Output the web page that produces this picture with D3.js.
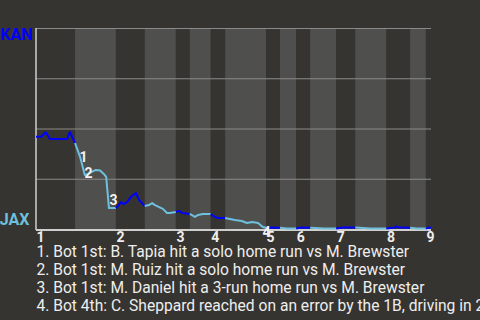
<!DOCTYPE html>
<html>
<head>
<meta charset="utf-8">
<script src="https://cdn.jsdelivr.net/npm/d3@7"></script>
<style>
  html, body { margin: 0; padding: 0; background: #363430; overflow: hidden; }
  svg { display: block; }
</style>
</head>
<body>
<script>
// game progress where each half inning starts (top 1 .. top 9), end of game last
var halfStarts = [0, 8.4, 17.2, 23.4, 30.1, 33.1, 37.6, 40.7, 49.5, 52.5, 56, 59, 64.6, 68.7, 75.4, 80.5, 83.9];
var gameEnd = 85;
var inningLabels = ["1","2","3","4","5","6","7","8","9"];

// win probability for KAN (away) after each play
var wpX = [0, 1.1, 2.1, 3.0, 4.5, 6.7, 7.3, 8.4,
           9.5, 10.5, 11.2, 12.0, 12.9, 13.8, 14.6, 15.1, 15.7, 17.2,
           17.8, 18.3, 18.8, 19.6, 20.4, 21.5, 22.2, 22.8, 23.4,
           24.3, 25.0, 25.6, 26.5, 27.3, 28.2, 28.8, 30.1,
           30.8, 31.4, 33.1,
           34.2, 34.9, 35.9, 37.6,
           38.1, 39.0, 40.7,
           41.7, 42.8, 44.3, 45.4, 46.5, 47.8, 48.8, 49.5,
           50.5, 52.5,
           54, 56,
           57, 59,
           62, 64.6,
           66, 68.7,
           72, 75.4,
           77.2, 77.6, 78.2, 80.5,
           82, 83.9,
           84.5, 85];
var wpKan = [0.459, 0.459, 0.481, 0.448, 0.448, 0.448, 0.483, 0.428,
             0.358, 0.269, 0.274, 0.284, 0.294, 0.291, 0.274, 0.259, 0.104, 0.104,
             0.119, 0.134, 0.124, 0.134, 0.159, 0.179, 0.144, 0.129, 0.114,
             0.119, 0.129, 0.119, 0.109, 0.100, 0.080, 0.080, 0.085,
             0.090, 0.080, 0.075,
             0.060, 0.070, 0.075, 0.075,
             0.065, 0.055, 0.055,
             0.050, 0.045, 0.040, 0.030, 0.035, 0.030, 0.010, 0.006,
             0.007, 0.006,
             0.002, 0.002,
             0.007, 0.006,
             0.002, 0.002,
             0.007, 0.007,
             0.002, 0.002,
             0.007, 0.012, 0.007, 0.006,
             0.002, 0.002,
             0.007, 0.006];

// key plays: index into the wp arrays and the caption
var eventIdx = [8, 9, 16, 51];
var eventText = [
  "1. Bot 1st: B. Tapia hit a solo home run vs M. Brewster",
  "2. Bot 1st: M. Ruiz hit a solo home run vs M. Brewster",
  "3. Bot 1st: M. Daniel hit a 3-run home run vs M. Brewster",
  "4. Bot 4th: C. Sheppard reached on an error by the 1B, driving in 2 runs"
];

var awayTeam = "KAN", homeTeam = "JAX";
var awayColor = "#0000ff", homeColor = "#6ec0dc";

var svg = d3.select("body")
            .append("svg")
            .attr("width", 480)
            .attr("height", 320);

var x = d3.scaleLinear().domain([0, gameEnd]).range([36, 431]);
var y = d3.scaleLinear().domain([0, 1]).range([229, 28]);

// half inning bands, bottom halves are lighter
var bands = halfStarts.map(function(s, i) {
  return { start: s, end: i < halfStarts.length - 1 ? halfStarts[i + 1] : gameEnd, top: i % 2 == 0 };
});

svg.selectAll("rect.band")
   .data(bands)
   .enter()
   .append("rect")
   .attr("class", "band")
   .attr("x", function(d){ return x(d.start); })
   .attr("y", y(1))
   .attr("width", function(d){ return x(d.end) - x(d.start); })
   .attr("height", y(0) - y(1))
   .attr("fill", function(d){ return d.top ? "#363430" : "#4f4f4e"; });

// grid lines
svg.selectAll("line.grid")
   .data([0.25, 0.5, 0.75, 1])
   .enter()
   .append("line")
   .attr("x1", x(0))
   .attr("x2", x(gameEnd))
   .attr("y1", function(d){ return y(d) + 0.5; })
   .attr("y2", function(d){ return y(d) + 0.5; })
   .attr("stroke", "#8a8a88")
   .attr("stroke-width", 1);

// axis lines
svg.append("line")
   .attr("x1", x(0)).attr("x2", x(0))
   .attr("y1", y(1)).attr("y2", y(0) + 1)
   .attr("stroke", "#cfcfcf").attr("stroke-width", 1.5);
svg.append("line")
   .attr("x1", x(0)).attr("x2", x(gameEnd))
   .attr("y1", y(0) + 1).attr("y2", y(0) + 1)
   .attr("stroke", "#cfcfcf").attr("stroke-width", 2);

// win probability line, one piece per half inning
var pts = wpX.map(function(v, i){ return [v, wpKan[i]]; });
var line = d3.line()
             .x(function(d){ return x(d[0]); })
             .y(function(d){ return y(d[1]); });

svg.selectAll("path.wp")
   .data(bands)
   .enter()
   .append("path")
   .attr("class", "wp")
   .attr("d", function(b){
     return line(pts.filter(function(p){ return p[0] >= b.start - 1e-6 && p[0] <= b.end + 1e-6; }));
   })
   .attr("fill", "none")
   .attr("stroke", function(b){ return b.top ? awayColor : homeColor; })
   .attr("stroke-width", 2)
   .attr("stroke-linejoin", "round");

// numbers next to the key plays
svg.selectAll("text.ev")
   .data(eventIdx)
   .enter()
   .append("text")
   .attr("x", function(d){ return (x(pts[d - 1][0]) + x(pts[d][0])) / 2 + 6; })
   .attr("y", function(d){ return (y(pts[d - 1][1]) + y(pts[d][1])) / 2 + 12; })
   .attr("text-anchor", "middle")
   .style("font-family", "Roboto, sans-serif")
   .style("font-size", "14px")
   .style("font-weight", "bold")
   .attr("fill", "#f2f2f2")
   .text(function(d, i){ return i + 1; });

// inning numbers along the bottom
svg.selectAll("text.inn")
   .data(inningLabels)
   .enter()
   .append("text")
   .attr("x", function(d, i){ return x(halfStarts[i * 2]) + 0.5; })
   .attr("y", 242)
   .style("font-family", "Roboto, sans-serif")
   .style("font-size", "14px")
   .style("font-weight", "bold")
   .attr("fill", "#eeeeee")
   .text(function(d){ return d; });

// team names
svg.append("text")
   .attr("x", 32.5).attr("y", 39.5)
   .attr("text-anchor", "end")
   .style("font-family", "Roboto, sans-serif")
   .style("font-size", "16px")
   .style("font-weight", "bold")
   .attr("fill", awayColor)
   .text(awayTeam);
svg.append("text")
   .attr("x", 29.5).attr("y", 225)
   .attr("text-anchor", "end")
   .style("font-family", "Roboto, sans-serif")
   .style("font-size", "16px")
   .style("font-weight", "bold")
   .attr("fill", homeColor)
   .text(homeTeam);

// captions
svg.selectAll("text.cap")
   .data(eventText)
   .enter()
   .append("text")
   .attr("x", 36.5)
   .attr("y", function(d, i){ return 257 + i * 18; })
   .style("font-family", "Roboto, sans-serif")
   .style("font-size", "15.6px")
   .attr("fill", "#eeeeee")
   .text(function(d){ return d; });
</script>
</body>
</html>
